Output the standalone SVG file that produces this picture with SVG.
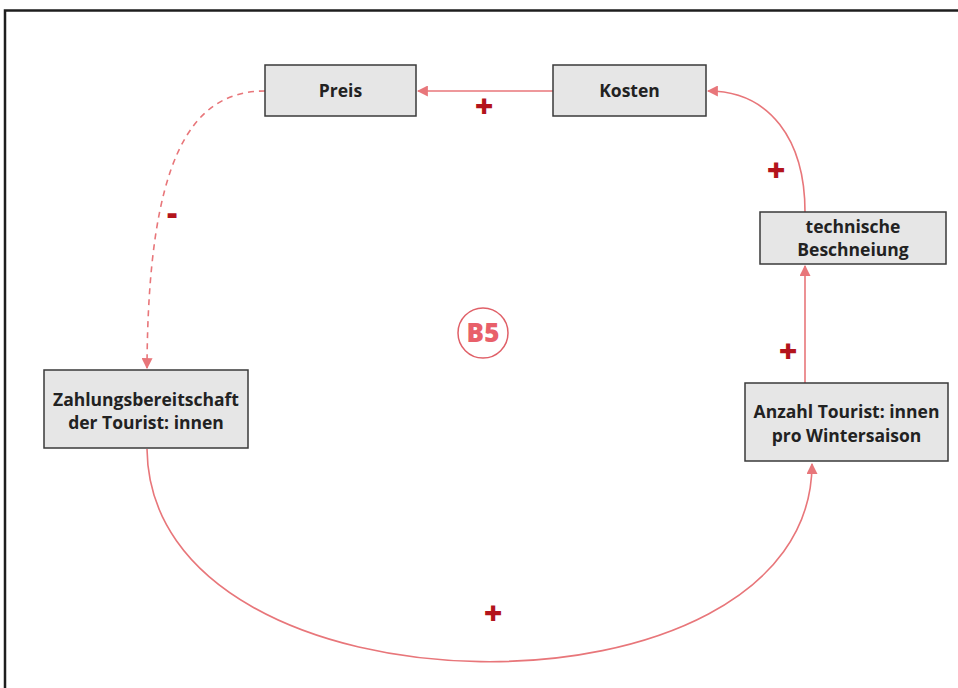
<svg xmlns="http://www.w3.org/2000/svg" width="958" height="688" viewBox="0 0 958 688">
  <style>
    .node rect { fill: #e6e6e6; stroke: #3a3a3a; stroke-width: 1.5; }
    .node text { font-family: "Open Sans", "Liberation Sans", sans-serif; font-weight: 700; font-size: 17.5px; fill: #222; text-anchor: middle; }
    .link { fill: none; stroke: #e8767a; stroke-width: 1.6; }
    .dashed { stroke-dasharray: 6 5; }
    .sign { font-family: "Open Sans", "Liberation Sans", sans-serif; font-weight: 800; font-size: 32px; fill: #b3141c; text-anchor: middle; }
  </style>
  <defs>
    <marker id="arrow" viewBox="0 0 10 10" refX="9" refY="5" markerWidth="11" markerHeight="11" markerUnits="userSpaceOnUse" orient="auto">
      <path d="M0,0 L10,5 L0,10 Z" fill="#e8767a"/>
    </marker>
  </defs>

  <rect width="958" height="688" fill="#ffffff"/>
  <rect x="5" y="10.5" width="980" height="700" fill="none" stroke="#1e1e1e" stroke-width="2.5"/>

  <g id="connectors">
    <path class="link" d="M553,91 L418,91" marker-end="url(#arrow)"/>
    <path class="link" d="M805,212 C805,140 770,91 708,91" marker-end="url(#arrow)"/>
    <path class="link" d="M805,383 L805,266" marker-end="url(#arrow)"/>
    <path class="link dashed" d="M265,91 C190,91 148,160 147,368" marker-end="url(#arrow)"/>
    <path class="link" d="M147,449 C150,728 812,732 812,464" marker-end="url(#arrow)"/>
  </g>

  <g id="signs">
    <text class="sign" x="484" y="118">+</text>
    <text class="sign" x="776" y="182">+</text>
    <text class="sign" x="788" y="363">+</text>
    <text class="sign" x="172" y="224">-</text>
    <text class="sign" x="493" y="625">+</text>
  </g>

  <g id="preis" class="node">
    <rect x="265" y="65" width="151" height="51"/>
    <text x="340.5" y="97">Preis</text>
  </g>
  <g id="kosten" class="node">
    <rect x="553" y="65" width="153" height="51"/>
    <text x="629.5" y="97">Kosten</text>
  </g>
  <g id="beschneiung" class="node">
    <rect x="760" y="212" width="186" height="52"/>
    <text x="853" y="233">technische</text>
    <text x="853" y="256">Beschneiung</text>
  </g>
  <g id="zahlungsbereitschaft" class="node">
    <rect x="44" y="370" width="204" height="78"/>
    <text x="146" y="406">Zahlungsbereitschaft</text>
    <text x="146" y="429">der Tourist: innen</text>
  </g>
  <g id="anzahl" class="node">
    <rect x="745" y="383" width="203" height="78"/>
    <text x="846.5" y="418">Anzahl Tourist: innen</text>
    <text x="846.5" y="442">pro Wintersaison</text>
  </g>
  <g id="b5">
    <circle cx="483" cy="333" r="25" fill="#ffffff" stroke="#e06068" stroke-width="1.5"/>
    <text x="483" y="342" font-family="Open Sans, Liberation Sans, sans-serif" font-weight="800" font-size="26" fill="#e8606a" text-anchor="middle">B5</text>
  </g>
</svg>
